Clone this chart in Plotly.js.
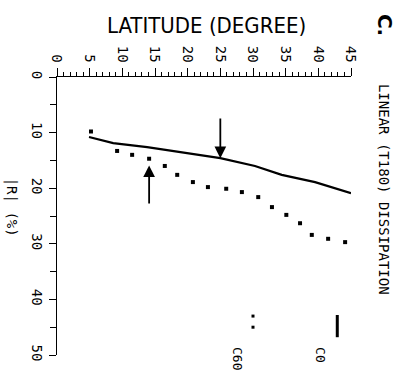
<!DOCTYPE html>
<html><head><meta charset="utf-8">
<script src="https://cdn.plot.ly/plotly-3.0.1.min.js"></script>
<style>html,body{margin:0;padding:0;background:#fff;}#plot{width:410px;height:377px;}</style>
</head><body><div id="plot"></div>
<script>
// C0 (solid line): latitude (deg) vs |R| (%)
const latC0 = [4.9, 8.6, 13.8, 18.8, 25.0, 30.3, 34.4, 39.5, 45.0];
const rC0   = [10.8, 11.9, 12.6, 13.5, 14.6, 16.0, 17.6, 18.9, 20.9];
// C60 (dotted): latitude (deg) vs |R| (%)
const latC60 = [5.2, 9.2, 11.5, 14.1, 16.5, 18.4, 20.8, 23.1, 25.9, 28.3, 30.8, 32.9, 35.1, 37.2, 39.0, 41.5, 44.1];
const rC60   = [9.8, 13.3, 14.0, 14.7, 16.0, 17.6, 18.9, 19.8, 20.1, 20.7, 21.6, 23.4, 24.8, 26.3, 28.4, 29.1, 29.7];
const latTicks = [0, 5, 10, 15, 20, 25, 30, 35, 40, 45];
const rTicks = [0, 10, 20, 30, 40, 50];
// arrows: [latitude, head |R|, tail |R|]
const arrowDown = [25.0, 14.6, 7.2];
const arrowUp = [14.1, 15.9, 23.0];
// legend keys
const legC0 = {lat: 42.9, r0: 42.8, r1: 46.8, labelLat: 40.4, labelR: 50};
const legC60 = {lat: 30.0, r: [43.0, 45.0], labelLat: 27.7, labelR: 50};

const mono = 'DejaVu Sans Mono, Liberation Mono, monospace';

const traces = [
  {x: latC0, y: rC0, mode: 'lines', line: {color: '#000', width: 2.2}, hoverinfo: 'skip', cliponaxis: false},
  {x: latC60, y: rC60, mode: 'markers', marker: {symbol: 'square', size: 4, color: '#000'}, hoverinfo: 'skip', cliponaxis: false},
  {x: [legC60.lat, legC60.lat], y: legC60.r, mode: 'markers', marker: {symbol: 'square', size: 3, color: '#000'}, hoverinfo: 'skip', cliponaxis: false}
];

const layout = {
  width: 410, height: 377,
  margin: {l: 57, r: 59, t: 77, b: 22},
  paper_bgcolor: '#fff', plot_bgcolor: '#fff',
  showlegend: false,
  xaxis: {
    side: 'top', range: [0, 45], tickvals: latTicks, ticktext: latTicks.map(String),
    ticks: 'outside', ticklen: 8, tickwidth: 1, tickcolor: '#000',
    minor: {dtick: 1, ticks: 'outside', ticklen: 4, tickwidth: 1, tickcolor: '#000'},
    showline: true, linecolor: '#000', linewidth: 1.5, showgrid: false, zeroline: false,
    tickangle: 90, tickfont: {family: mono, size: 14, color: '#000'}
  },
  yaxis: {
    range: [50, 0], tickvals: rTicks, ticktext: rTicks.map(String),
    ticks: 'outside', ticklen: 7, tickwidth: 1, tickcolor: '#000',
    minor: {dtick: 5, ticks: 'outside', ticklen: 6, tickwidth: 1, tickcolor: '#000'},
    showline: true, linecolor: '#000', linewidth: 1.5, showgrid: false, zeroline: false,
    tickangle: 90, tickfont: {family: mono, size: 14, color: '#000'}
  },
  shapes: [
    {type: 'line', xref: 'x', yref: 'y', x0: legC0.lat, x1: legC0.lat, y0: legC0.r0, y1: legC0.r1, line: {color: '#000', width: 3}}
  ],
  annotations: [
    {xref: 'x', yref: 'y', axref: 'x', ayref: 'y', x: arrowDown[0], y: arrowDown[1], ax: arrowDown[0], ay: arrowDown[2], text: '', showarrow: true, arrowhead: 2, arrowsize: 1.3, arrowwidth: 1.8, arrowcolor: '#000', standoff: 0},
    {xref: 'x', yref: 'y', axref: 'x', ayref: 'y', x: arrowUp[0], y: arrowUp[1], ax: arrowUp[0], ay: arrowUp[2], text: '', showarrow: true, arrowhead: 2, arrowsize: 1.3, arrowwidth: 1.8, arrowcolor: '#000', standoff: 0},
    {xref: 'x', yref: 'y', x: legC0.labelLat, y: legC0.labelR, text: 'C0', showarrow: false, textangle: 90, xanchor: 'center', yanchor: 'middle', font: {family: mono, size: 13, color: '#000'}},
    {xref: 'x', yref: 'y', x: legC60.labelLat, y: legC60.labelR, yshift: -4, text: 'C60', showarrow: false, textangle: 90, xanchor: 'center', yanchor: 'middle', font: {family: mono, size: 13, color: '#000'}},
    {xref: 'paper', yref: 'paper', x: 0.51, y: 1.187, xanchor: 'center', yanchor: 'middle', text: 'LATITUDE (DEGREE)', showarrow: false, font: {family: 'Liberation Sans Narrow, DejaVu Sans Condensed, Liberation Sans, sans-serif', size: 22, color: '#000'}},
    {xref: 'paper', yref: 'paper', x: 1.112, y: 0.594, xanchor: 'center', yanchor: 'middle', text: 'LINEAR (T180) DISSIPATION', showarrow: false, textangle: 90, font: {family: mono, size: 14, color: '#000'}},
    {xref: 'paper', yref: 'paper', x: 1.116, y: 1.187, xanchor: 'center', yanchor: 'middle', text: '<b>C.</b>', showarrow: false, textangle: 90, font: {family: 'DejaVu Sans, sans-serif', size: 20, color: '#000'}},
    {xref: 'paper', yref: 'paper', x: -0.155, y: 0.532, xanchor: 'center', yanchor: 'middle', text: '|R| (%)', showarrow: false, textangle: 90, font: {family: mono, size: 14, color: '#000'}}
  ]
};

Plotly.newPlot('plot', traces, layout, {displayModeBar: false, staticPlot: true});
</script></body></html>
